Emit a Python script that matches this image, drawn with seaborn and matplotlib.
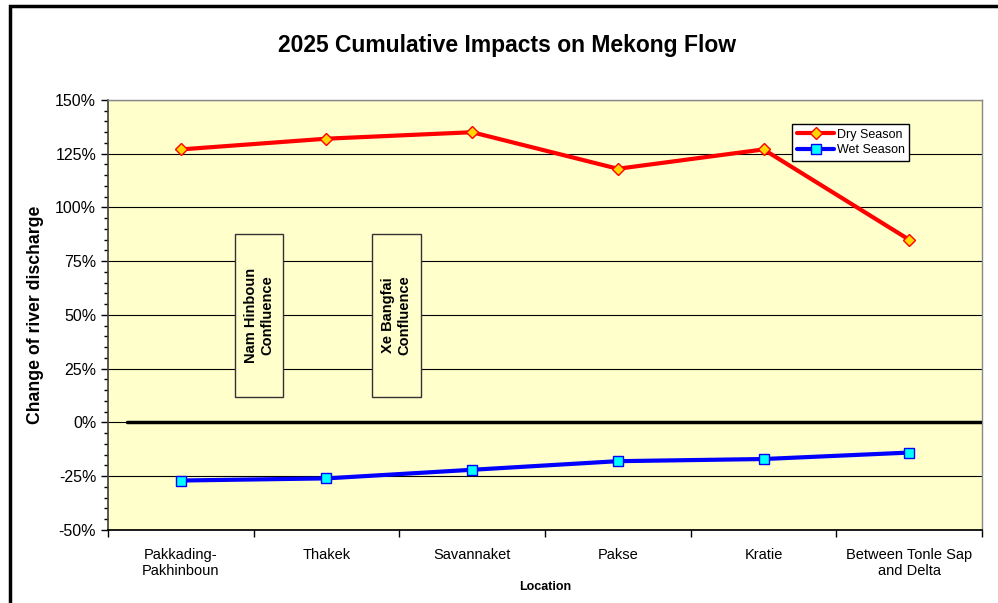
import numpy as np
import pandas as pd
import seaborn as sns
import matplotlib.pyplot as plt
from matplotlib.patches import Rectangle
from matplotlib.ticker import MultipleLocator, PercentFormatter

# chart data
locations = ["Pakkading-\nPakhinboun", "Thakek", "Savannaket", "Pakse", "Kratie",
             "Between Tonle Sap\nand Delta"]
dry_season = [127, 132, 135, 118, 127, 85]
wet_season = [-27, -26, -22, -18, -17, -14]
confluences = ["Nam Hinboun\nConfluence", "Xe Bangfai\nConfluence"]

sns.set_theme(style="white")
plt.rcParams['font.family'] = ['Liberation Sans', 'DejaVu Sans']
plt.rcParams.update({"text.color": "black", "axes.labelcolor": "black",
                     "xtick.color": "black", "ytick.color": "black",
                     "axes.unicode_minus": False})

df = pd.DataFrame({"Location": locations, "Dry": dry_season, "Wet": wet_season})

fig = plt.figure(figsize=(9.98, 6.03), dpi=100)
ax = fig.add_axes([0.1082, 0.1211, 0.8758, 0.7131])
ax.set_facecolor("#FFFFCC")

# outer frame of the chart area
fig.patches.append(Rectangle((0.0105, -0.05), 1.2, 1.04, transform=fig.transFigure,
                             fill=False, edgecolor="black", linewidth=2.5, zorder=0))

sns.lineplot(data=df, x="Location", y="Dry", ax=ax, sort=False, color="#FF0000",
             linewidth=3, marker="D", markersize=6, markerfacecolor="#FFD700",
             markeredgecolor="#FF0000", markeredgewidth=1, label="Dry Season", zorder=5)
sns.lineplot(data=df, x="Location", y="Wet", ax=ax, sort=False, color="#0000FF",
             linewidth=3, marker="s", markersize=7, markerfacecolor="#00FFFF",
             markeredgecolor="#0000FF", markeredgewidth=1, label="Wet Season", zorder=5)

ax.set_xlim(-0.5, len(locations) - 0.5)
ax.set_ylim(-50, 150)
ax.yaxis.set_major_locator(MultipleLocator(25))
ax.yaxis.set_minor_locator(MultipleLocator(5))
ax.yaxis.set_major_formatter(PercentFormatter(decimals=0))
ax.set_xticks(range(len(locations)))
ax.set_xticklabels(locations)
ax.grid(axis="y", which="major", color="black", linewidth=0.8, zorder=1)
ax.set_axisbelow(True)
ax.axhline(0, xmin=0.022, xmax=1, color="black", linewidth=2.5, zorder=3)

# x ticks sit on category boundaries
ax.set_xticks(np.arange(-0.5, len(locations)), minor=True)
ax.tick_params(axis="x", which="major", length=0, labelsize=10.5, pad=13)
ax.tick_params(axis="x", which="minor", length=5, width=1, direction="out", bottom=True)
ax.tick_params(axis="y", which="major", length=5, width=1, direction="out", left=True,
               labelsize=11.5)
ax.tick_params(axis="y", which="minor", length=3, width=1, direction="out", left=True)
for s in ["top", "right"]:
    ax.spines[s].set_color("#888888")
    ax.spines[s].set_linewidth(1)
ax.spines["left"].set_color("#444444")
ax.spines["bottom"].set_color("black")

ax.set_xlabel("Location", fontsize=9, fontweight="bold", labelpad=2)
ax.set_ylabel("Change of river discharge", fontsize=12.7, fontweight="bold", labelpad=8)
fig.text(0.508, 0.925, "2025 Cumulative Impacts on Mekong Flow", ha="center", va="center",
         fontsize=16.5, fontweight="bold")

# confluence annotation boxes
for (x0, x1), label in zip([(0.372, 0.701), (1.312, 1.649)], confluences):
    ax.add_patch(Rectangle((x0, 11.9), x1 - x0, 87.7 - 11.9, facecolor="#FFFFCC",
                           edgecolor="#333333", linewidth=1, zorder=4))
    ax.text((x0 + x1) / 2, 50, label, rotation=90, ha="center", va="center",
            fontsize=10.5, fontweight="bold", zorder=6, multialignment="center")

leg = ax.legend(loc="upper left", bbox_to_anchor=(0.776, 0.958), fontsize=9,
                frameon=True, fancybox=False, edgecolor="black", framealpha=1,
                borderpad=0.35, handlelength=3, labelspacing=0.3, handletextpad=0.2)
leg.get_frame().set_linewidth(1)

fig.savefig("out.png", dpi=100)
